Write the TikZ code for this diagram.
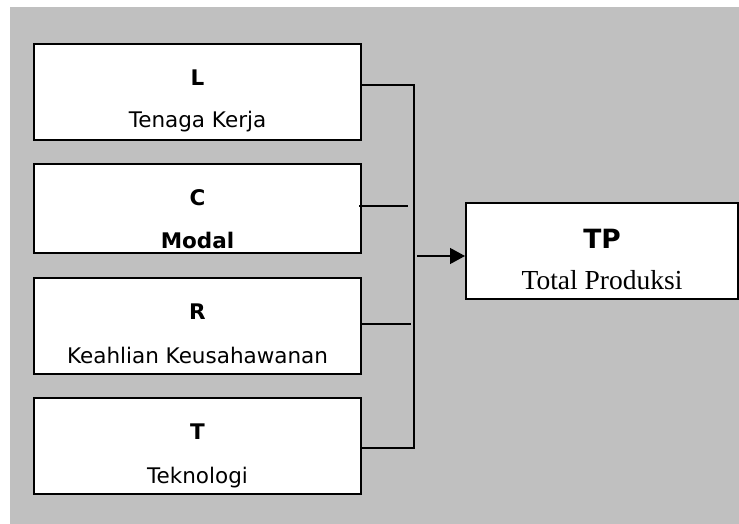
\documentclass[tikz,border=0pt]{standalone}
\usepackage{fontspec}
\setmainfont{DejaVu Sans}
\newfontfamily\serifrm{Liberation Serif}
\usepackage{tikz}
\usetikzlibrary{arrows.meta}

\definecolor{panelgray}{RGB}{192,192,192}
\tikzset{
  factor/.style={draw, line width=2pt, fill=white, minimum width=327pt, minimum height=96pt, inner sep=0pt},
  result/.style={draw, line width=2pt, fill=white, minimum width=272pt, minimum height=96pt, inner sep=0pt},
  lbl/.style={anchor=base, inner sep=0pt, font=\fontsize{21.5}{25}\selectfont},
  bus/.style={line width=1.3pt}
}

\begin{document}
\begin{tikzpicture}[x=1pt, y=-1pt]
        \useasboundingbox (0,0) rectangle (739,524);
        \fill [panelgray] (10,7) rectangle (739,524);
        % factor boxes
        \node [factor] (L) at (197.5,92) {};
        \node [factor, minimum height=89pt] (C) at (197.5,208.5) {};
        \node [factor] (R) at (197.5,326) {};
        \node [factor] (T) at (197.5,446) {};
        \node [result] (TP) at (602,251) {};
        \node [lbl] (l1) at (197.5,86) {\bfseries L};
        \node [lbl] (l2) at (197.5,128) {Tenaga Kerja};
        \node [lbl] (c1) at (197.5,205) {\bfseries C};
        \node [lbl] (c2) at (197.5,248) {\bfseries Modal};
        \node [lbl] (r1) at (197.5,319) {\bfseries R};
        \node [lbl] (r2) at (197.5,363) {Keahlian Keusahawanan};
        \node [lbl] (t1) at (197.5,439) {\bfseries T};
        \node [lbl] (t2) at (197.5,483) {Teknologi};
        \node [lbl, font=\fontsize{26.5}{30}\selectfont] (tp1) at (602,248) {\bfseries TP};
        \node [lbl, font=\fontsize{27.5}{30}\serifrm] (tp2) at (602,289) {Total Produksi};
        % bus
        \coordinate (top) at (414,85);
        \coordinate (bot) at (414,448);
        \coordinate (cin) at (359,206);
        \coordinate (cout) at (408,206);
        \coordinate (rin) at (362,324);
        \coordinate (rout) at (411,324);
        \coordinate (src) at (417,256);
        \draw [bus] (L.east |- top) to (top) to (bot) to (T.east |- bot);
        \draw [bus] (cin) to (cout);
        \draw [bus] (rin) to (rout);
        \draw [bus, -{Triangle[length=15pt, width=16pt]}] (src) to (TP.west |- src);
      \end{tikzpicture}
\end{document}
